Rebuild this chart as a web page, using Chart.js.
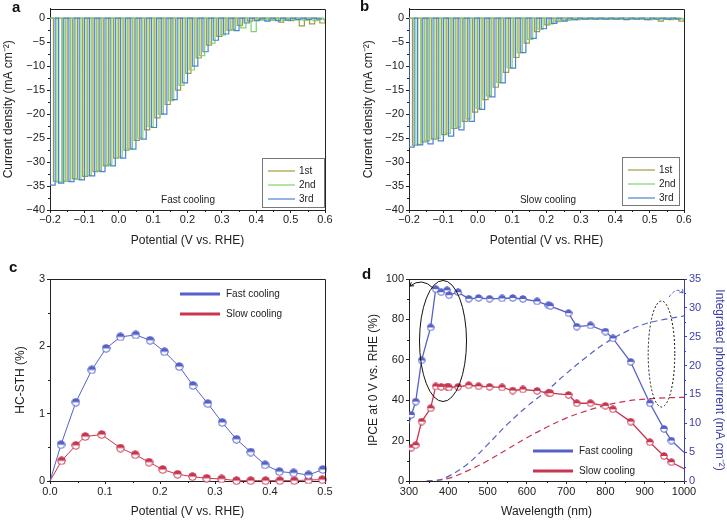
<!DOCTYPE html>
<html>
<head>
<meta charset="utf-8">
<title>Chopped photocurrent, HC-STH and IPCE</title>
<script src="https://cdn.jsdelivr.net/npm/chart.js@4.4.1/dist/chart.umd.min.js"></script>
<style>
  body { margin: 0; width: 727px; height: 520px; position: relative; background: #fff; overflow: hidden;
         font-family: 'Liberation Sans', Arial, Helvetica, sans-serif; }
  canvas { position: absolute; }
  .panel { position: absolute; font-weight: bold; font-size: 15px; color: #111; line-height: 17px; }
</style>
</head>
<body>
<canvas id="chartA" width="360" height="260" style="left:0;top:0"></canvas>
<canvas id="chartB" width="367" height="260" style="left:360px;top:0"></canvas>
<canvas id="chartC" width="360" height="260" style="left:0;top:260px"></canvas>
<canvas id="chartD" width="367" height="260" style="left:360px;top:260px"></canvas>
<span class="panel" style="left:12px;top:-2px">a</span>
<span class="panel" style="left:360px;top:-3px">b</span>
<span class="panel" style="left:9px;top:258px">c</span>
<span class="panel" style="left:362px;top:265px">d</span>
<script>
'use strict';

// ---- tick labels ----
const potentialTicks = [-0.2, -0.1, 0.0, 0.1, 0.2, 0.3, 0.4, 0.5, 0.6];
const currentTicks = [-40, -35, -30, -25, -20, -15, -10, -5, 0];
const sthPotentialTicks = [0.0, 0.1, 0.2, 0.3, 0.4, 0.5];
const sthTicks = [0, 1, 2, 3];
const wavelengthTicks = [300, 400, 500, 600, 700, 800, 900, 1000];
const ipceTicks = [0, 20, 40, 60, 80, 100];
const photocurrentTicks = [0, 5, 10, 15, 20, 25, 30, 35];

// ---- a, b: chopped scans ----
const scanLabels = ['1st', '2nd', '3rd'];
// potential (V vs. RHE) where the light goes on during the 3rd scan
const chopOnsets = [-0.2, -0.175, -0.145, -0.115, -0.085, -0.055, -0.025, 0.005, 0.035,
  0.065, 0.095, 0.125, 0.155, 0.185, 0.215, 0.245, 0.275, 0.305, 0.335, 0.365, 0.395,
  0.425, 0.455, 0.485, 0.515, 0.545, 0.575];
// 1st and 2nd scans are chopped a bit later
const scanShift = [0.01, 0.02, 0];
const lightOnWidth = 0.015;

// light current of each chop (mA cm-2), fast cooling
const fastScan1 = [-34.0, -34.0, -33.5, -33.0, -32.0, -30.8, -29.2, -27.5, -25.5, -23.3,
  -20.8, -18.0, -15.0, -11.5, -8.3, -5.6, -3.8, -2.5, -1.5, -0.6, -0.3, -0.4, -0.8, -0.5, -1.6, -1.2, -1.0];
const fastScan2 = [-34.2, -34.0, -33.6, -32.8, -31.8, -30.5, -29.0, -27.2, -25.0, -22.6,
  -20.0, -17.2, -14.0, -10.8, -7.8, -5.2, -3.5, -2.4, -2.0, -2.8, -0.4, -0.3, -0.4, -0.3, -0.4, -0.5, -0.3];
const fastScan3 = [-34.8, -34.4, -34.1, -33.7, -32.9, -32.0, -30.8, -29.2, -27.3, -25.2,
  -22.8, -20.0, -17.0, -13.5, -10.0, -7.0, -4.6, -3.3, -2.6, -1.0, -0.5, -0.6, -0.5, -0.4, -0.3, -0.3, -0.2];
// slow cooling
const slowScan1 = [-26.5, -25.8, -25.2, -24.3, -23.0, -21.5, -19.6, -17.0, -14.4, -11.3,
  -8.2, -5.2, -2.8, -1.4, -0.7, -0.4, -0.3, -0.2, -0.2, -0.2, -0.2, -0.2, -0.2, -0.3, -0.6, -0.3, -0.6];
const slowScan2 = [-26.3, -25.6, -25.0, -24.0, -22.7, -21.0, -18.8, -16.2, -13.4, -10.3,
  -7.2, -4.4, -2.3, -1.2, -0.6, -0.3, -0.2, -0.2, -0.2, -0.2, -0.2, -0.2, -0.2, -0.2, -0.2, -0.2, -0.2];
const slowScan3 = [-26.9, -26.4, -26.2, -25.6, -24.6, -23.3, -21.5, -19.0, -16.4, -13.5,
  -10.4, -7.2, -4.2, -2.2, -1.1, -0.6, -0.3, -0.2, -0.2, -0.2, -0.2, -0.3, -0.2, -0.3, -0.2, -0.2, -0.2];

// ---- c: HC-STH (%) ----
const sthPotentialFast = [0, 0.020, 0.047, 0.076, 0.102, 0.128, 0.156, 0.182, 0.208, 0.235,
  0.260, 0.287, 0.313, 0.339, 0.365, 0.391, 0.417, 0.443, 0.470, 0.496];
const sthFast = [0, 0.54, 1.17, 1.65, 1.97, 2.14, 2.17, 2.09, 1.92, 1.70,
  1.42, 1.15, 0.87, 0.62, 0.43, 0.24, 0.14, 0.12, 0.09, 0.17];
const sthPotentialSlow = [0, 0.021, 0.047, 0.064, 0.094, 0.128, 0.155, 0.180, 0.205, 0.232,
  0.259, 0.285, 0.312, 0.339, 0.365, 0.392, 0.418, 0.444, 0.470, 0.495];
const sthSlow = [0, 0.30, 0.53, 0.66, 0.69, 0.49, 0.39, 0.28, 0.17, 0.10,
  0.065, 0.04, 0.03, 0.005, 0.005, 0.005, 0.005, 0.005, 0.015, 0.02];

// ---- d: IPCE (%) and integrated photocurrent (mA cm-2) ----
const ipceWavelength = [300, 306, 317, 332, 355, 368, 382, 397, 402, 425, 452, 477, 505, 537,
  564, 590, 626, 655, 660, 706, 727, 762, 800, 819, 864, 913, 949, 968, 1000];
const ipceFast = [28.6, 32.7, 39.3, 59.7, 76.0, 95.0, 93.5, 94.4, 92.0, 93.5, 90.2, 90.6, 90.2, 90.4,
  90.6, 90.1, 88.9, 87.0, 86.6, 83.1, 76.4, 77.0, 74.0, 70.6, 59.0, 38.5, 25.8, 20.0, 14.2];
const ipceSlow = [15.4, 16.5, 17.7, 29.4, 36.0, 46.8, 46.6, 46.6, 46.3, 46.6, 47.4, 46.9, 46.6, 46.3,
  44.8, 45.3, 44.6, 43.5, 43.5, 42.6, 38.5, 38.5, 37.2, 35.5, 29.4, 19.2, 12.4, 9.3, 6.1];
const integWavelength = [345, 365, 400, 450, 500, 550, 600, 650, 700, 750, 800, 850, 900, 950, 1000];
const integFast = [0, 0, 0.8, 3.0, 6.3, 9.8, 12.9, 15.6, 18.6, 21.4, 23.9, 25.8, 27.2, 28.0, 28.6];
const integSlow = [0, 0.1, 0.45, 1.8, 3.5, 5.5, 7.5, 9.3, 10.9, 12.1, 13.1, 13.8, 14.2, 14.4, 14.5];

// ---- styles ----
const scanColors = ['#a29b3c', '#80d26b', '#4b82da'];
const fastColor = '#5561c9';
const slowColor = '#c7354f';
const rightColor = '#3d40a8';
const ink = '#222';
const fontFamily = "'Liberation Sans', Arial, Helvetica, sans-serif";

Chart.defaults.font.family = fontFamily;
Chart.defaults.font.size = 11;
Chart.defaults.color = ink;

function fmt(decimals) {
  return v => (v < -1e-9 ? '\u2212' : '') + Math.abs(v).toFixed(decimals);
}

function toPoints(xs, ys) {
  return xs.map((x, i) => ({ x: x, y: ys[i] }));
}

// square light pulses: dark current 0, light current from the list
function chopPoints(currents, shift) {
  const pts = [{ x: -0.2, y: 0 }];
  chopOnsets.forEach((v, i) => {
    const on = v + shift;
    const off = on + lightOnWidth;
    pts.push({ x: on, y: 0 }, { x: on, y: currents[i] }, { x: off, y: currents[i] }, { x: off, y: 0 });
  });
  return pts;
}

// half filled circle marker
function halfMarker(color, size) {
  const c = document.createElement('canvas');
  c.width = size; c.height = size;
  const g = c.getContext('2d');
  const r = size / 2 - 0.7;
  g.beginPath(); g.arc(size / 2, size / 2, r, 0, Math.PI * 2); g.fillStyle = '#fff'; g.fill();
  g.beginPath(); g.arc(size / 2, size / 2, r, Math.PI, 0); g.closePath(); g.fillStyle = color; g.fill();
  g.beginPath(); g.arc(size / 2, size / 2, r, 0, Math.PI * 2); g.strokeStyle = color; g.lineWidth = 1; g.stroke();
  return c;
}

function linAxis(o) {
  const color = o.color || ink;
  return {
    type: 'linear',
    position: o.position,
    min: o.min,
    max: o.max,
    afterBuildTicks: s => { s.ticks = o.ticks.map(v => ({ value: v })); },
    afterFit: s => { if (s.isHorizontal()) s.height = o.size; else s.width = o.size; },
    grid: { display: true, drawOnChartArea: false, drawTicks: true, tickLength: 3, color: color, lineWidth: 1 },
    border: { display: true, color: color, width: 1 },
    ticks: { padding: o.tickPad === undefined ? 1 : o.tickPad, color: color, autoSkip: false, maxRotation: 0,
             font: { size: 11 }, callback: fmt(o.decimals) },
    title: { display: true, text: o.title, color: color, font: { size: 12 }, padding: o.titlePad }
  };
}

function line(ctx, x1, x2, y, color, width) {
  ctx.strokeStyle = color; ctx.lineWidth = width; ctx.setLineDash([]);
  ctx.beginPath(); ctx.moveTo(x1, y); ctx.lineTo(x2, y); ctx.stroke();
}

function text(ctx, str, x, y, align) {
  ctx.fillStyle = ink; ctx.font = '10px ' + fontFamily;
  ctx.textAlign = align || 'left'; ctx.textBaseline = 'middle';
  ctx.fillText(str, x, y);
}

function arrow(ctx, p0, c, p1, color, dash) {
  ctx.strokeStyle = color; ctx.lineWidth = 1; ctx.setLineDash(dash || []);
  ctx.beginPath(); ctx.moveTo(p0[0], p0[1]); ctx.quadraticCurveTo(c[0], c[1], p1[0], p1[1]); ctx.stroke();
  ctx.setLineDash([]);
  const ang = Math.atan2(p1[1] - c[1], p1[0] - c[0]);
  ctx.beginPath();
  ctx.moveTo(p1[0] - 4 * Math.cos(ang - 0.6), p1[1] - 4 * Math.sin(ang - 0.6));
  ctx.lineTo(p1[0], p1[1]);
  ctx.lineTo(p1[0] - 4 * Math.cos(ang + 0.6), p1[1] - 4 * Math.sin(ang + 0.6));
  ctx.stroke();
}

// minor ticks, frame and in-plot labels
function decor(o) {
  return {
    id: 'decor',
    afterDraw(chart) {
      const ctx = chart.ctx;
      const a = chart.chartArea;
      ctx.save();
      for (const id in o.minor) {
        const s = chart.scales[id];
        const step = o.minor[id];
        ctx.strokeStyle = s.options.border.color; ctx.lineWidth = 1;
        ctx.beginPath();
        const first = Math.ceil(s.min / step - 1e-6);
        const last = Math.floor(s.max / step + 1e-6);
        for (let k = first; k <= last; k++) {
          const v = k * step;
          if (s.ticks.some(t => Math.abs(t.value - v) < step / 10)) continue;
          const p = Math.round(s.getPixelForValue(v)) + 0.5;
          if (s.position === 'bottom') { ctx.moveTo(p, s.top); ctx.lineTo(p, s.top + 2); }
          else if (s.position === 'left') { ctx.moveTo(s.right, p); ctx.lineTo(s.right - 2, p); }
          else { ctx.moveTo(s.left, p); ctx.lineTo(s.left + 2, p); }
        }
        ctx.stroke();
      }
      ctx.strokeStyle = ink; ctx.lineWidth = 1;
      const l = Math.round(a.left) + 0.5, t = Math.round(a.top) + 0.5;
      const r = Math.round(a.right) + 0.5, b = Math.round(a.bottom) + 0.5;
      ctx.beginPath();
      ctx.moveTo(l, t); ctx.lineTo(r, t);
      if (o.fullBox) { ctx.lineTo(r, b); }
      ctx.stroke();
      if (o.draw) o.draw(ctx);
      ctx.restore();
    }
  };
}

function chopChart(id, scans, note, legendBox, yAxisWidth, padRight) {
  return new Chart(document.getElementById(id), {
    type: 'line',
    data: {
      datasets: scans.map((cur, i) => ({
        label: scanLabels[i],
        data: chopPoints(cur, scanShift[i]),
        borderColor: scanColors[i],
        borderWidth: 1.2,
        pointRadius: 0,
        tension: 0,
        order: 2 - i
      }))
    },
    options: {
      responsive: false,
      animation: false,
      events: [],
      layout: { padding: { top: 7, right: padRight, left: 0, bottom: 0 } },
      plugins: { legend: { display: false }, tooltip: { enabled: false } },
      scales: {
        x: linAxis({ position: 'bottom', min: -0.2, max: 0.6, ticks: potentialTicks, decimals: 1, size: 50, tickPad: 0,
                     title: 'Potential (V vs. RHE)', titlePad: { top: 0, bottom: 12 } }),
        y: linAxis({ position: 'left', min: -40, max: 2, ticks: currentTicks, decimals: 0, size: yAxisWidth, tickPad: 2,
                     title: 'Current density (mA cm\u207B\u00B2)', titlePad: { top: 1, bottom: 0 } })
      }
    },
    plugins: [decor({
      minor: { x: 0.05, y: 2.5 },
      fullBox: true,
      draw(ctx) {
        const bx = legendBox;
        ctx.strokeStyle = '#777'; ctx.lineWidth = 1;
        ctx.strokeRect(bx[0] + 0.5, bx[1] + 0.5, bx[2], bx[3]);
        scanLabels.forEach((lab, i) => {
          const y = bx[1] + 13 + i * 14;
          line(ctx, bx[0] + 6, bx[0] + 33, y, scanColors[i], 1.2);
          text(ctx, lab, bx[0] + 37, y);
        });
        text(ctx, note, 188, 200, 'center');
      }
    })]
  });
}

chopChart('chartA', [fastScan1, fastScan2, fastScan3], 'Fast cooling', [262, 158, 62, 49], 50, 35);
chopChart('chartB', [slowScan1, slowScan2, slowScan3], 'Slow cooling', [262, 157, 57, 48], 49, 43);

// ---- c ----
const markFast = halfMarker(fastColor, 9);
const markSlow = halfMarker(slowColor, 9);
const hideFirst = ctx => (ctx.dataIndex === 0 ? 0 : 4);

new Chart(document.getElementById('chartC'), {
  type: 'line',
  data: {
    datasets: [
      { label: 'Fast cooling', data: toPoints(sthPotentialFast, sthFast), borderColor: fastColor, borderWidth: 1,
        pointStyle: markFast, pointRadius: hideFirst, tension: 0 },
      { label: 'Slow cooling', data: toPoints(sthPotentialSlow, sthSlow), borderColor: slowColor, borderWidth: 1,
        pointStyle: markSlow, pointRadius: hideFirst, tension: 0 }
    ]
  },
  options: {
    responsive: false,
    animation: false,
    events: [],
    clip: false,
    layout: { padding: { top: 19, right: 35, left: 0, bottom: 0 } },
    plugins: { legend: { display: false }, tooltip: { enabled: false } },
    scales: {
      x: linAxis({ position: 'bottom', min: 0, max: 0.5, ticks: sthPotentialTicks, decimals: 1, size: 39,
                   title: 'Potential (V vs. RHE)', titlePad: { top: 0, bottom: 1 } }),
      y: linAxis({ position: 'left', min: 0, max: 3, ticks: sthTicks, decimals: 0, size: 50, tickPad: 2,
                   title: 'HC-STH (%)', titlePad: { top: 13, bottom: 0 } })
    }
  },
  plugins: [decor({
    minor: { x: 0.05, y: 0.5 },
    fullBox: true,
    draw(ctx) {
      line(ctx, 180, 220, 34, fastColor, 3);
      text(ctx, 'Fast cooling', 226, 34);
      line(ctx, 180, 220, 54, slowColor, 3);
      text(ctx, 'Slow cooling', 226, 54);
    }
  })]
});

// ---- d ----
const markFastD = halfMarker(fastColor, 8);
const markSlowD = halfMarker(slowColor, 8);
const hideEnds = ctx => (ctx.dataIndex === 0 || ctx.dataIndex === ipceWavelength.length - 1 ? 0 : 4);

new Chart(document.getElementById('chartD'), {
  type: 'line',
  data: {
    datasets: [
      { label: 'Fast cooling', data: toPoints(ipceWavelength, ipceFast), yAxisID: 'y', borderColor: fastColor,
        borderWidth: 1.3, pointStyle: markFastD, pointRadius: hideEnds, tension: 0 },
      { label: 'Slow cooling', data: toPoints(ipceWavelength, ipceSlow), yAxisID: 'y', borderColor: slowColor,
        borderWidth: 1.3, pointStyle: markSlowD, pointRadius: hideEnds, tension: 0 },
      { label: 'Fast cooling (integrated)', data: toPoints(integWavelength, integFast), yAxisID: 'y1',
        borderColor: fastColor, borderWidth: 1.2, borderDash: [6, 4], pointRadius: 0, tension: 0.4 },
      { label: 'Slow cooling (integrated)', data: toPoints(integWavelength, integSlow), yAxisID: 'y1',
        borderColor: slowColor, borderWidth: 1.2, borderDash: [6, 4], pointRadius: 0, tension: 0.4 }
    ]
  },
  options: {
    responsive: false,
    animation: false,
    events: [],
    layout: { padding: { top: 19, right: 0, left: 0, bottom: 0 } },
    plugins: { legend: { display: false }, tooltip: { enabled: false } },
    scales: {
      x: linAxis({ position: 'bottom', min: 300, max: 1000, ticks: wavelengthTicks, decimals: 0, size: 39,
                   title: 'Wavelength (nm)', titlePad: { top: 0, bottom: 1 } }),
      y: linAxis({ position: 'left', min: 0, max: 100, ticks: ipceTicks, decimals: 0, size: 49, tickPad: 2,
                   title: 'IPCE at 0 V vs. RHE (%)', titlePad: { top: 6, bottom: 0 } }),
      y1: linAxis({ position: 'right', min: 0, max: 35, ticks: photocurrentTicks, decimals: 0, size: 43, tickPad: 2,
                    color: rightColor, title: 'Integrated photocurrent (mA cm\u207B\u00B2)', titlePad: { top: 0, bottom: 0 } })
    }
  },
  plugins: [decor({
    minor: { x: 50, y: 10, y1: 2.5 },
    fullBox: false,
    draw(ctx) {
      ctx.strokeStyle = '#111'; ctx.lineWidth = 1; ctx.setLineDash([]);
      ctx.beginPath(); ctx.ellipse(83, 81, 23.5, 60.5, 0, 0, Math.PI * 2); ctx.stroke();
      arrow(ctx, [73, 28], [62, 17], [50, 26], '#111');
      ctx.setLineDash([2, 2]);
      ctx.beginPath(); ctx.ellipse(301.5, 94, 13.3, 53, 0, 0, Math.PI * 2); ctx.stroke();
      ctx.setLineDash([]);
      arrow(ctx, [309, 37], [317, 26], [323, 33], fastColor, [3, 2]);
      line(ctx, 173, 213, 191, fastColor, 3);
      text(ctx, 'Fast cooling', 219, 191);
      line(ctx, 173, 213, 211, slowColor, 3);
      text(ctx, 'Slow cooling', 219, 211);
    }
  })]
});
</script>
</body>
</html>
